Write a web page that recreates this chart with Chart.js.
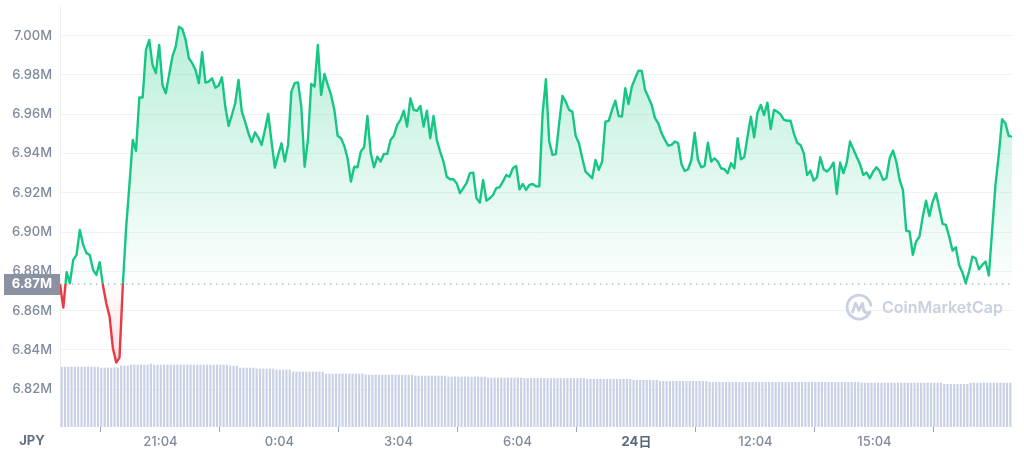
<!DOCTYPE html>
<html>
<head>
<meta charset="utf-8">
<script src="https://cdn.jsdelivr.net/npm/chart.js@4/dist/chart.umd.min.js"></script>
<style>
  body { margin: 0; background: #fff; }
  #wrap { width: 1024px; height: 453px; position: relative; }
</style>
</head>
<body>
<div id="wrap"><canvas id="priceChart"></canvas></div>
<script>
// BTC/JPY, 24h, one point every 5 minutes starting 18:32 (values in millions)
const BASE = 6.8735;
const price = [
  6.8735, 6.8616, 6.8796, 6.8740, 6.8859, 6.8884, 6.9011, 6.8935, 6.8893, 6.8884,
  6.8808, 6.8782, 6.8847, 6.8728, 6.8638, 6.8570, 6.8409, 6.8336, 6.8361, 6.8728,
  6.9020, 6.9240, 6.9469, 6.9413, 6.9685, 6.9685, 6.9927, 6.9978, 6.9851, 6.9809,
  6.9953, 6.9749, 6.9707, 6.9800, 6.9893, 6.9944, 7.0046, 7.0034, 6.9978, 6.9885,
  6.9860, 6.9825, 6.9758, 6.9916, 6.9761, 6.9766, 6.9783, 6.9735, 6.9746, 6.9788,
  6.9639, 6.9541, 6.9596, 6.9656, 6.9775, 6.9613, 6.9562, 6.9503, 6.9458, 6.9508,
  6.9481, 6.9444, 6.9520, 6.9602, 6.9461, 6.9328, 6.9393, 6.9452, 6.9359, 6.9444,
  6.9715, 6.9758, 6.9762, 6.9639, 6.9333, 6.9469, 6.9754, 6.9741, 6.9953, 6.9698,
  6.9805, 6.9749, 6.9698, 6.9622, 6.9490, 6.9478, 6.9439, 6.9376, 6.9257, 6.9333,
  6.9330, 6.9410, 6.9432, 6.9591, 6.9402, 6.9330, 6.9384, 6.9359, 6.9398, 6.9398,
  6.9469, 6.9490, 6.9546, 6.9571, 6.9618, 6.9537, 6.9681, 6.9622, 6.9617, 6.9642,
  6.9537, 6.9618, 6.9478, 6.9591, 6.9469, 6.9410, 6.9359, 6.9282, 6.9269, 6.9269,
  6.9249, 6.9198, 6.9224, 6.9249, 6.9300, 6.9303, 6.9172, 6.9150, 6.9266, 6.9160,
  6.9172, 6.9189, 6.9224, 6.9229, 6.9257, 6.9291, 6.9282, 6.9325, 6.9337, 6.9218,
  6.9245, 6.9215, 6.9240, 6.9245, 6.9233, 6.9233, 6.9605, 6.9778, 6.9461, 6.9393,
  6.9397, 6.9554, 6.9693, 6.9664, 6.9622, 6.9613, 6.9490, 6.9452, 6.9376, 6.9308,
  6.9291, 6.9274, 6.9367, 6.9317, 6.9359, 6.9562, 6.9566, 6.9622, 6.9669, 6.9591,
  6.9588, 6.9732, 6.9652, 6.9741, 6.9783, 6.9822, 6.9820, 6.9724, 6.9686, 6.9647,
  6.9580, 6.9554, 6.9503, 6.9469, 6.9440, 6.9444, 6.9461, 6.9452, 6.9347, 6.9311,
  6.9320, 6.9367, 6.9506, 6.9367, 6.9330, 6.9337, 6.9455, 6.9359, 6.9376, 6.9359,
  6.9325, 6.9320, 6.9300, 6.9351, 6.9325, 6.9478, 6.9371, 6.9381, 6.9486, 6.9588,
  6.9483, 6.9608, 6.9647, 6.9596, 6.9659, 6.9524, 6.9622, 6.9613, 6.9599, 6.9571,
  6.9567, 6.9567, 6.9503, 6.9455, 6.9444, 6.9402, 6.9291, 6.9313, 6.9262, 6.9279,
  6.9381, 6.9320, 6.9308, 6.9325, 6.9354, 6.9194, 6.9354, 6.9300, 6.9354, 6.9461,
  6.9422, 6.9384, 6.9347, 6.9291, 6.9303, 6.9274, 6.9308, 6.9330, 6.9308, 6.9266,
  6.9274, 6.9376, 6.9415, 6.9359, 6.9266, 6.9215, 6.9008, 6.9003, 6.8884, 6.8952,
  6.8977, 6.9079, 6.9160, 6.9082, 6.9155, 6.9198, 6.9122, 6.9042, 6.9037, 6.8977,
  6.8906, 6.8923, 6.8833, 6.8794, 6.8740, 6.8799, 6.8875, 6.8867, 6.8811, 6.8833,
  6.8850, 6.8779, 6.9011, 6.9240, 6.9393, 6.9575, 6.9554, 6.9490, 6.9486
];

// volume bars (relative height, one per 5 minutes)
const volume = [
  60, 60, 60, 60, 60, 60, 60, 60, 60, 60, 60, 60,
  59, 59, 59, 59, 59, 59, 61, 61, 61, 62, 62, 62,
  62, 62, 62, 63, 62, 62, 62, 62, 62, 62, 62, 62,
  62, 62, 62, 62, 62, 62, 62, 62, 62, 62, 62, 62,
  62, 62, 62, 61, 61, 61, 59, 59, 59, 59, 59, 58,
  58, 58, 58, 58, 58, 57, 57, 57, 57, 57, 55, 55,
  55, 55, 55, 55, 55, 55, 55, 55, 53, 53, 53, 53,
  53, 53, 53, 53, 53, 53, 53, 53, 52, 52, 52, 52,
  52, 52, 52, 52, 52, 52, 52, 52, 52, 52, 52, 51,
  51, 51, 51, 51, 51, 51, 51, 51, 51, 50, 50, 50,
  50, 50, 50, 50, 50, 50, 50, 50, 50, 49, 49, 49,
  49, 49, 49, 49, 49, 49, 49, 49, 48.5, 48.5, 48.5, 48.5,
  48.5, 48.5, 48.5, 48.5, 48.5, 48.5, 48.5, 48.5, 48.5, 48.5, 48.5, 48.5,
  48.5, 48.5, 48.5, 47.7, 47.7, 47.7, 47.7, 47.7, 47.7, 47.7, 47.7, 47.7,
  47.7, 47.7, 47.7, 47.7, 47.7, 46.7, 46.7, 46.7, 46.7, 46.7, 46.7, 46.7,
  46.7, 45.7, 45.7, 45.7, 45.7, 45.7, 45.7, 45.7, 45.7, 45.7, 45.7, 45.7,
  45.7, 45.7, 45.7, 45.7, 44.7, 44.7, 44.7, 44.7, 44.7, 44.7, 44.7, 44.7,
  44.7, 44.7, 44.7, 44.7, 44.7, 44.7, 44.7, 44.7, 44.7, 44.7, 44.7, 44.7,
  44.7, 44.7, 44.7, 44.7, 44.7, 44.7, 44.7, 44.7, 44.7, 44.7, 44.7, 44.7,
  44.7, 44.7, 44.7, 44.7, 44.7, 44.7, 44.7, 44.7, 44.7, 44.7, 44.7, 44.7,
  44.7, 44.7, 44, 44, 44, 44, 44, 44, 44, 44, 44, 44,
  44, 44, 44, 44, 44, 44, 44, 44, 44, 44, 44, 44,
  44, 44, 44, 42.7, 42.7, 42.7, 42.7, 42.7, 42.7, 42.7, 42.7, 44,
  44, 44, 44, 44, 44, 44, 44, 44, 44, 44, 44, 44
];

const STEP = 5; // minutes between points
const yTicks = [6.82, 6.84, 6.86, 6.88, 6.90, 6.92, 6.94, 6.96, 6.98, 7.00];
const xTicks = [152, 332, 512, 692, 872, 1052, 1232]; // minutes after 18:32
const xLabels = ['21:04', '0:04', '3:04', '6:04', '24日', '12:04', '15:04'];

const GREEN = '#16c784';
const RED = '#ea3943';
const FONT = 'Inter, "Noto Sans CJK JP", sans-serif';

function splitRatio(chart) {
  const { chartArea, scales } = chart;
  const yb = scales.y.getPixelForValue(BASE);
  return Math.min(1, Math.max(0, (yb - chartArea.top) / (chartArea.bottom - chartArea.top)));
}

function lineColor(c) {
  const chart = c.chart;
  if (!chart.chartArea) return GREEN;
  const { top, bottom } = chart.chartArea;
  const r = splitRatio(chart);
  const g = chart.ctx.createLinearGradient(0, top, 0, bottom);
  g.addColorStop(0, GREEN);
  g.addColorStop(r, GREEN);
  g.addColorStop(r, RED);
  g.addColorStop(1, RED);
  return g;
}

function areaColor(c) {
  const chart = c.chart;
  if (!chart.chartArea) return 'transparent';
  const { top, bottom } = chart.chartArea;
  const r = splitRatio(chart);
  const g = chart.ctx.createLinearGradient(0, top, 0, bottom);
  g.addColorStop(0, 'rgba(22,199,132,0.32)');
  g.addColorStop(r, 'rgba(22,199,132,0.01)');
  g.addColorStop(r, 'rgba(234,57,67,0.01)');
  g.addColorStop(1, 'rgba(234,57,67,0.28)');
  return g;
}

// baseline, watermark, price tag, currency label
const overlay = {
  id: 'overlay',
  beforeDatasetsDraw(chart) {
    const { ctx, chartArea, scales } = chart;
    const yb = scales.y.getPixelForValue(BASE);

    // watermark
    const cx = chartArea.right - 153, cy = yb + 23;
    ctx.save();
    ctx.strokeStyle = '#c9d0df';
    ctx.fillStyle = '#c9d0df';
    ctx.lineWidth = 2.8;
    ctx.lineCap = 'round';
    ctx.lineJoin = 'round';
    ctx.beginPath();
    ctx.arc(cx, cy, 12, 0.15 * Math.PI, 1.95 * Math.PI);
    ctx.stroke();
    ctx.beginPath();
    ctx.moveTo(cx - 6.5, cy + 5);
    ctx.lineTo(cx - 3.5, cy - 4);
    ctx.lineTo(cx, cy + 3);
    ctx.lineTo(cx + 3.5, cy - 4);
    ctx.lineTo(cx + 5, cy + 4);
    ctx.quadraticCurveTo(cx + 7, cy + 7, cx + 11, cy + 5);
    ctx.stroke();
    ctx.font = '600 17px ' + FONT;
    const w = ctx.measureText('CoinMarketCap').width;
    ctx.font = '600 ' + (17 * 121 / w).toFixed(1) + 'px ' + FONT;
    ctx.textAlign = 'left';
    ctx.textBaseline = 'middle';
    ctx.fillText('CoinMarketCap', cx + 23, cy + 1);
    ctx.restore();

    // dotted baseline
    ctx.save();
    ctx.strokeStyle = '#a4acba';
    ctx.lineWidth = 1.3;
    ctx.setLineDash([1.3, 4.7]);
    ctx.beginPath();
    ctx.moveTo(chartArea.left, yb);
    ctx.lineTo(chartArea.right, yb);
    ctx.stroke();
    ctx.restore();
  },
  afterDraw(chart) {
    const { ctx, chartArea, scales } = chart;
    const yb = scales.y.getPixelForValue(BASE);
    ctx.save();
    ctx.fillStyle = '#8a91a1';
    ctx.fillRect(4, Math.round(yb) - 10, chartArea.left - 4, 21);
    ctx.fillStyle = '#ffffff';
    ctx.font = '700 13px ' + FONT;
    ctx.textAlign = 'right';
    ctx.textBaseline = 'middle';
    ctx.fillText(BASE.toFixed(2) + 'M', chartArea.left - 8, Math.round(yb) + 0.5);

    ctx.fillStyle = '#616e85';
    ctx.font = '700 13px ' + FONT;
    ctx.textAlign = 'center';
    ctx.fillText('JPY', 32, chartArea.bottom + 14);
    ctx.restore();
  }
};

const ctx = document.getElementById('priceChart').getContext('2d');
new Chart(ctx, {
  type: 'line',
  data: {
    datasets: [{
      type: 'line',
      label: 'Price',
      data: price.map((p, i) => ({ x: i * STEP, y: p })),
      borderColor: lineColor,
      backgroundColor: areaColor,
      borderWidth: 2.4,
      borderJoinStyle: 'round',
      pointRadius: 0,
      tension: 0,
      fill: { target: { value: BASE } },
      yAxisID: 'y',
      order: 0
    }, {
      type: 'bar',
      label: 'Volume',
      data: volume.map((v, i) => ({ x: i * STEP + STEP / 2, y: v })),
      backgroundColor: '#c8d1e5',
      barThickness: 1.5,
      yAxisID: 'yv',
      order: 1
    }]
  },
  options: {
    responsive: true,
    maintainAspectRatio: false,
    animation: false,
    layout: { padding: { top: 5, right: 12, left: 0, bottom: 0 } },
    plugins: {
      legend: { display: false },
      tooltip: { enabled: false }
    },
    scales: {
      x: {
        type: 'linear',
        min: 0,
        max: 1440,
        offset: false,
        afterBuildTicks: (s) => { s.ticks = xTicks.map(v => ({ value: v })); },
        afterFit: (s) => {
          s.height = 26;
          s.paddingLeft = 0;
          s.paddingRight = 0;
        },
        grid: {
          drawOnChartArea: false,
          tickLength: 5,
          tickColor: '#9aa3b4'
        },
        border: { display: false },
        ticks: {
          autoSkip: false,
          maxRotation: 0,
          padding: 2,
          callback: (v, i) => xLabels[i],
          color: (c) => (c.tick && c.tick.label === '24日') ? '#58667e' : '#808a9d',
          font: (c) => ({
            family: FONT,
            size: 13,
            weight: (c.tick && c.tick.label === '24日') ? '700' : '500'
          })
        }
      },
      y: {
        position: 'left',
        min: 6.8008,
        max: 7.0156,
        afterBuildTicks: (s) => { s.ticks = yTicks.map(v => ({ value: v })); },
        afterFit: (s) => {
          s.width = 60;
          s.paddingTop = 0;
          s.paddingBottom = 0;
        },
        grid: { color: '#f0f2f6', drawTicks: false },
        border: { color: '#eceff4' },
        ticks: {
          padding: 8,
          color: '#808a9d',
          font: { family: FONT, size: 13, weight: '500' },
          callback: (v) => v.toFixed(2) + 'M'
        }
      },
      yv: {
        display: false,
        min: 0,
        max: 422
      }
    }
  },
  plugins: [overlay]
});
</script>
</body>
</html>
